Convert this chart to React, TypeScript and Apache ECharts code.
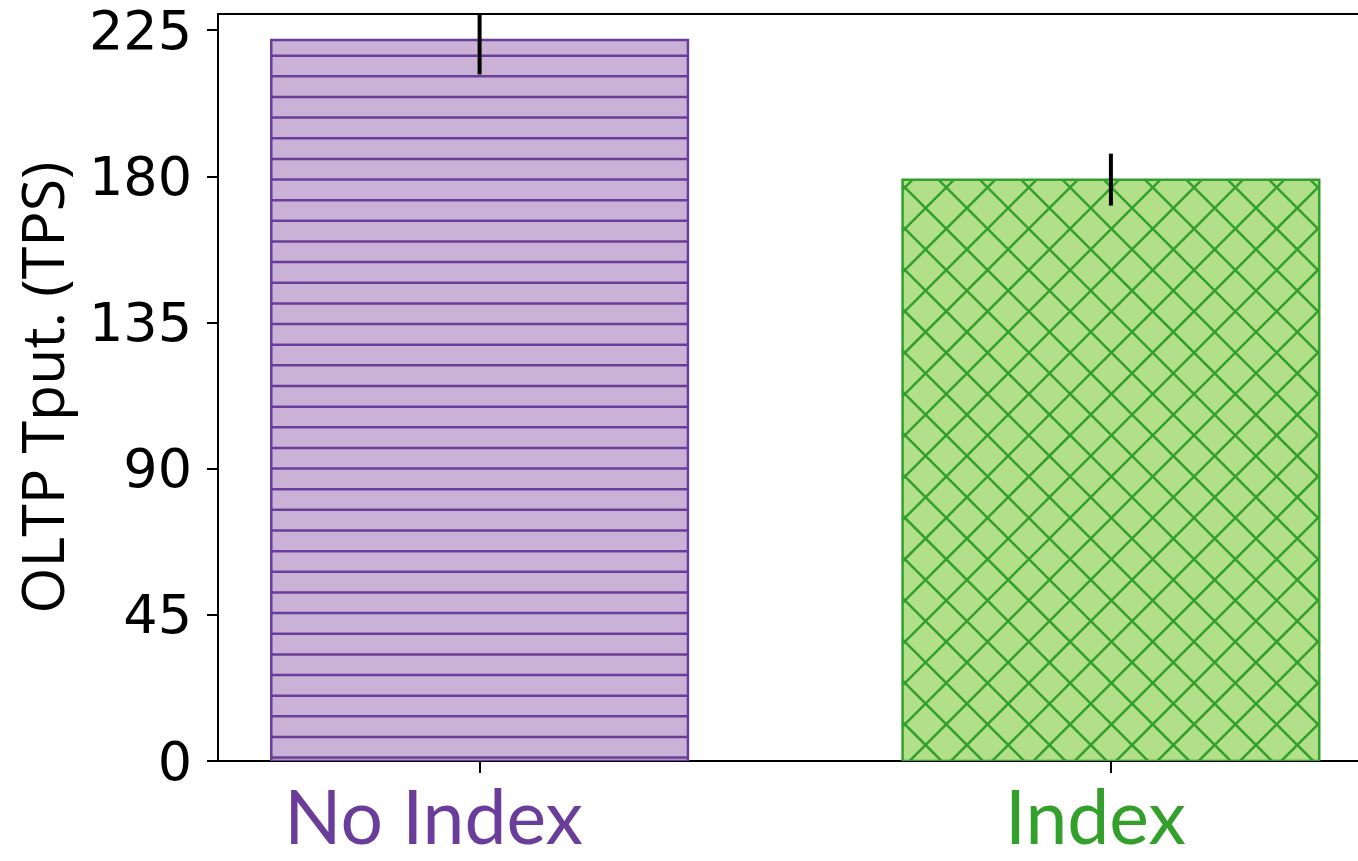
import React, { useEffect, useRef } from "react";
import * as echarts from "echarts";

const categories = ["No Index", "Index"];
const values = [222, 179];
const errors = [10.6, 8];
const yTicks = [0, 45, 90, 135, 180, 225];
const xTicks = [0, 1];
const edgeColors = ["#6a3d9a", "#33a02c"];
const fillColors = ["#cab2d6", "#b2df8a"];
const hatches = ["-", "x"];

const BAR_WIDTH = 0.66;
const X_MIN = -0.4144;
const X_MAX = 1.3914;

export default function App() {
  const ref = useRef<HTMLDivElement>(null);
  useEffect(() => {
    document.body.style.margin = "0";
    const chart = echarts.init(ref.current!, null, { renderer: "svg" });

    const renderItem = (params: any, api: any) => {
      const x = api.value(0);
      const y = api.value(1);
      const err = api.value(2);
      const i = params.dataIndex;
      const cs = params.coordSys;
      const tl = api.coord([x - BAR_WIDTH / 2, y]);
      const br = api.coord([x + BAR_WIDTH / 2, 0]);
      const x0 = tl[0], y0 = tl[1], x1 = br[0], y1 = br[1];
      const stroke = edgeColors[i];
      const children: any[] = [];
      children.push({
        type: "rect",
        shape: { x: x0, y: y0, width: x1 - x0, height: y1 - y0 },
        style: { fill: fillColors[i], stroke: null },
      });
      const hs = { stroke, lineWidth: 2.5, lineCap: "butt" };
      if (hatches[i] === "-") {
        const sp = 20.645;
        for (let yy = y1 - 3.4; yy > y0 + 1; yy -= sp) {
          children.push({ type: "line", shape: { x1: x0, y1: yy, x2: x1, y2: yy }, style: hs });
        }
      } else {
        const P = 41.3;
        const cx = x0 + 23;
        const cy = y1 - 16;
        const baseA = cy - cx;
        const minA = y0 - x1, maxA = y1 - x0;
        for (let m = Math.floor((minA - baseA) / P); m <= Math.ceil((maxA - baseA) / P); m++) {
          const c = baseA + P * m;
          const xa = Math.max(x0, y0 - c);
          const xb = Math.min(x1, y1 - c);
          if (xb > xa) children.push({ type: "line", shape: { x1: xa, y1: xa + c, x2: xb, y2: xb + c }, style: hs });
        }
        const baseB = cx + cy;
        const minB = x0 + y0, maxB = x1 + y1;
        for (let n = Math.floor((minB - baseB) / P); n <= Math.ceil((maxB - baseB) / P); n++) {
          const c = baseB + P * n;
          const xa = Math.max(x0, c - y1);
          const xb = Math.min(x1, c - y0);
          if (xb > xa) children.push({ type: "line", shape: { x1: xa, y1: c - xa, x2: xb, y2: c - xb }, style: hs });
        }
      }
      children.push({
        type: "rect",
        shape: { x: x0, y: y0, width: x1 - x0, height: y1 - y0 },
        style: { fill: null, stroke, lineWidth: 2.5 },
      });
      const eTop = api.coord([x, y + err]);
      const eBot = api.coord([x, y - err]);
      children.push({
        type: "line",
        shape: { x1: eTop[0], y1: Math.max(eTop[1], cs.y), x2: eTop[0], y2: eBot[1] },
        style: { stroke: "#000", lineWidth: 4, lineCap: "butt" },
      });
      return { type: "group", children };
    };

    chart.setOption({
      animation: false,
      grid: {
        left: 218,
        right: 0,
        top: 14,
        bottom: 100,
        show: false,
        containLabel: false,
        outerBoundsMode: "none",
      },
      xAxis: [
        {
          type: "value",
          position: "bottom",
          min: X_MIN,
          max: X_MAX,
          splitLine: { show: false },
          axisLine: { show: true, onZero: false, lineStyle: { color: "#000", width: 2 } },
          axisTick: { show: true, customValues: xTicks, length: 12, lineStyle: { color: "#000", width: 2 } },
          axisLabel: {
            customValues: xTicks,
            margin: 24,
            formatter: (v: number) => {
              const k = Math.round(v);
              return `{c${k}|${categories[k]}}`;
            },
            rich: {
              c0: { color: edgeColors[0], fontFamily: "Lato", fontSize: 75, lineHeight: 60, padding: [0, 92, 0, 0] },
              c1: { color: edgeColors[1], fontFamily: "Lato", fontSize: 75, lineHeight: 60, padding: [0, 31, 0, 0] },
            },
          },
        },
        {
          type: "value",
          position: "top",
          min: X_MIN,
          max: X_MAX,
          splitLine: { show: false },
          axisLine: { show: true, onZero: false, lineStyle: { color: "#000", width: 2 } },
          axisTick: { show: false },
          axisLabel: { show: false },
        },
      ],
      yAxis: {
        type: "value",
        min: 0,
        max: 230,
        splitLine: { show: false },
        axisLine: { show: true, onZero: false, lineStyle: { color: "#000", width: 2 } },
        axisTick: { show: true, customValues: yTicks, length: 11, lineStyle: { color: "#000", width: 2 } },
        axisLabel: {
          customValues: yTicks,
          margin: 26,
          color: "#000",
          fontFamily: "DejaVu Sans",
          fontSize: 54,
        },
        name: "OLTP Tput. (TPS)",
        nameLocation: "middle",
        nameGap: 148,
        nameTextStyle: { color: "#000", fontFamily: "Open Sans", fontSize: 59 },
      },
      series: [
        {
          type: "custom",
          silent: true,
          clip: true,
          xAxisIndex: 0,
          renderItem,
          encode: { x: 0, y: 1 },
          data: values.map((v, i) => [i, v, errors[i]]),
        },
      ],
    });
    return () => chart.dispose();
  }, []);
  return <div ref={ref} style={{ position: "fixed", left: 0, top: 0, width: 1358, height: 861 }} />;
}
